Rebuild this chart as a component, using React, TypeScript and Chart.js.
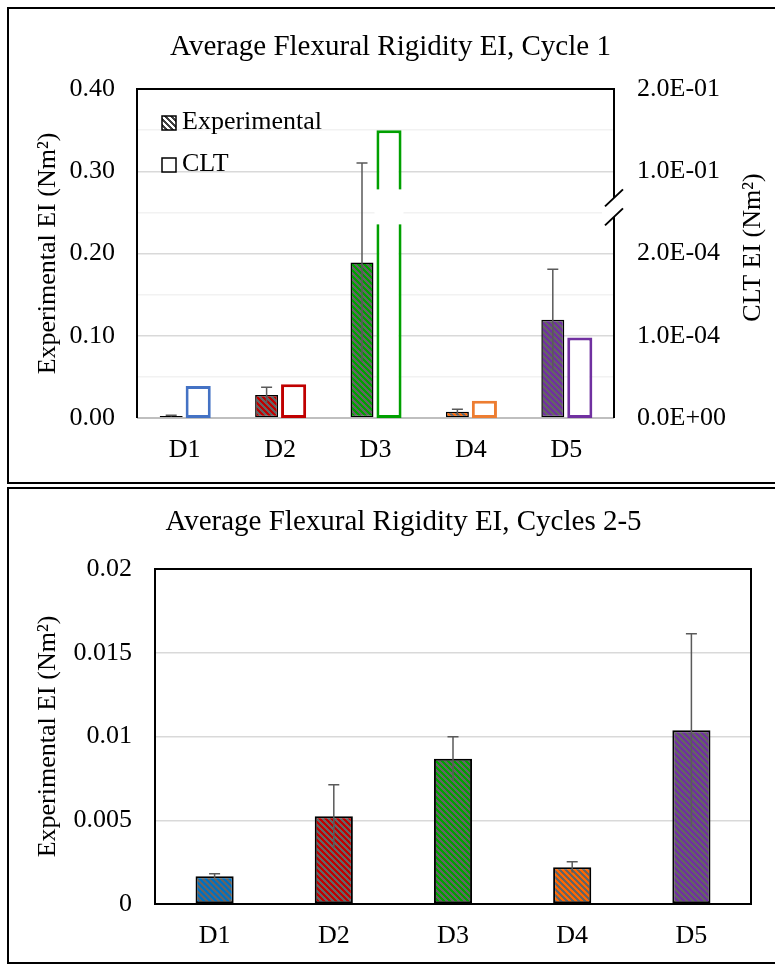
import React, { useEffect, useRef } from 'react';
import { Chart, registerables } from 'chart.js';

Chart.register(...registerables);

const FONT_FAMILY = "'Liberation Serif', 'Times New Roman', serif";

const CATEGORIES = ['D1', 'D2', 'D3', 'D4', 'D5'];
const EXP_COLORS = ['#0070C0', '#C00000', '#00A000', '#FF6600', '#7030A0'];
const CLT_COLORS = ['#4472C4', '#C00000', '#00A000', '#ED7D31', '#7030A0'];
const STRIPE_COLOR = '#646464';

// Cycle 1
const CYCLE1_EXP = [0.0025, 0.028, 0.189, 0.0077, 0.1195];
const CYCLE1_EXP_ERR = [0.0008, 0.0094, 0.121, 0.003, 0.0615];
const CYCLE1_CLT = [3.9e-5, 4.1e-5, 1.5e-1, 2.1e-5, 9.8e-5];
const CLT_AXIS_LABELS = ['0.0E+00', '1.0E-04', '2.0E-04', '1.0E-01', '2.0E-01'];
const CLT_AXIS_TITLE = 'CLT EI (Nm²)';

// Cycles 2-5
const CYCLES25_EXP = [0.00166, 0.00524, 0.00867, 0.0022, 0.01038];
const CYCLES25_EXP_ERR = [0.00014, 0.00188, 0.00131, 0.00032, 0.00575];

// broken CLT axis: 0..2e-4 -> 0..0.2 ; 0.1..0.2 -> 0.3..0.4
function cltToAxis(v: number) {
  return v <= 2e-4 ? v * 1000 : 0.2 + v;
}

function makePattern(color: string, stripe: string) {
  const c = document.createElement('canvas');
  c.width = 6;
  c.height = 6;
  const g = c.getContext('2d')!;
  for (let y = 0; y < 6; y++) {
    for (let x = 0; x < 6; x++) {
      g.fillStyle = ((((x - y) % 6) + 6) % 6) < 3 ? stripe : color;
      g.fillRect(x, y, 1, 1);
    }
  }
  return g.createPattern(c, 'repeat')!;
}

function errorBarPlugin(values: number[], errors: number[]) {
  return {
    id: 'errorBars',
    afterDatasetsDraw(chart: any) {
      const meta = chart.getDatasetMeta(0);
      const y = chart.scales.y;
      const ctx = chart.ctx;
      ctx.save();
      ctx.strokeStyle = '#5a5a5a';
      ctx.lineWidth = 1.5;
      meta.data.forEach((el: any, i: number) => {
        const top = y.getPixelForValue(values[i] + errors[i]);
        const bot = y.getPixelForValue(Math.max(values[i] - errors[i], 0));
        ctx.beginPath();
        ctx.moveTo(el.x, bot);
        ctx.lineTo(el.x, top);
        ctx.moveTo(el.x - 5.5, top);
        ctx.lineTo(el.x + 5.5, top);
        ctx.stroke();
      });
      ctx.restore();
    },
  };
}

const tickFont = { family: FONT_FAMILY, size: 26 };
const titleFont = { family: FONT_FAMILY, size: 29, weight: 'normal' as const };

function isMajor(v: number) {
  return Math.round(v * 100) % 10 === 0;
}

function config1(): any {
  const patterns = EXP_COLORS.map((c) => makePattern(c, STRIPE_COLOR));
  const legendPattern = makePattern('#ffffff', '#404040');
  const framePlugin = {
    id: 'frame1',
    beforeDatasetsDraw(chart: any) {
      const { ctx, chartArea: ca } = chart;
      ctx.save();
      ctx.strokeStyle = '#bfbfbf';
      ctx.lineWidth = 2;
      ctx.beginPath();
      ctx.moveTo(ca.left, ca.bottom);
      ctx.lineTo(ca.right, ca.bottom);
      ctx.stroke();
      ctx.restore();
    },
    afterDraw(chart: any) {
      const { ctx, chartArea: ca } = chart;
      const y = chart.scales.y;
      ctx.save();
      ctx.strokeStyle = '#000';
      ctx.lineWidth = 2;
      ctx.beginPath();
      ctx.moveTo(ca.left, ca.bottom);
      ctx.lineTo(ca.left, ca.top);
      ctx.lineTo(ca.right, ca.top);
      ctx.lineTo(ca.right, ca.bottom);
      ctx.stroke();

      // break on the D3 CLT bar
      const p = y.getPixelForValue(0.25);
      const el = chart.getDatasetMeta(1).data[2];
      ctx.fillStyle = '#fff';
      ctx.fillRect(el.x - el.width / 2 - 2, p - 23, el.width + 4, 35);

      // break on the right axis
      const rx = ca.right;
      ctx.beginPath();
      ctx.moveTo(rx - 9, p - 6);
      ctx.lineTo(rx + 9, p - 23);
      ctx.lineTo(rx + 9, p - 4);
      ctx.lineTo(rx - 9, p + 13);
      ctx.closePath();
      ctx.fill();
      ctx.fillRect(rx - 12, p - 2, 4, 4);
      ctx.beginPath();
      ctx.moveTo(rx - 9, p - 6);
      ctx.lineTo(rx + 9, p - 23);
      ctx.moveTo(rx - 9, p + 13);
      ctx.lineTo(rx + 9, p - 4);
      ctx.stroke();

      // legend
      const lx = ca.left + 25;
      ctx.lineWidth = 1.5;
      ctx.fillStyle = legendPattern;
      ctx.fillRect(lx, ca.top + 27, 14, 14);
      ctx.strokeRect(lx, ca.top + 27, 14, 14);
      ctx.fillStyle = '#fff';
      ctx.fillRect(lx, ca.top + 69, 14, 14);
      ctx.strokeRect(lx, ca.top + 69, 14, 14);
      ctx.fillStyle = '#000';
      ctx.font = `26px ${FONT_FAMILY}`;
      ctx.textBaseline = 'middle';
      ctx.textAlign = 'left';
      ctx.fillText('Experimental', lx + 20, ca.top + 33);
      ctx.fillText('CLT', lx + 20, ca.top + 75);

      // right axis title (reads bottom to top)
      ctx.translate(ca.right + 139, (ca.top + ca.bottom) / 2 - 6);
      ctx.rotate(-Math.PI / 2);
      ctx.textAlign = 'center';
      ctx.fillText(CLT_AXIS_TITLE, 0, 0);
      ctx.restore();
    },
  };

  return {
    type: 'bar',
    data: {
      labels: CATEGORIES,
      datasets: [
        {
          label: 'Experimental',
          data: CYCLE1_EXP,
          backgroundColor: patterns,
          borderColor: '#000',
          borderWidth: 1.5,
          borderSkipped: false,
          barPercentage: 0.85,
          categoryPercentage: 0.566,
          yAxisID: 'y',
        },
        {
          label: 'CLT',
          data: CYCLE1_CLT.map(cltToAxis),
          backgroundColor: '#ffffff',
          borderColor: CLT_COLORS,
          borderWidth: 3,
          borderSkipped: false,
          barPercentage: 0.93,
          categoryPercentage: 0.566,
          yAxisID: 'y2',
        },
      ],
    },
    options: {
      responsive: false,
      animation: false,
      devicePixelRatio: 1,
      layout: { padding: 0 },
      plugins: {
        legend: { display: false },
        tooltip: { enabled: false },
        title: {
          display: true,
          text: 'Average Flexural Rigidity EI, Cycle 1',
          font: titleFont,
          color: '#000',
          padding: { top: 30, bottom: 24.2 },
        },
      },
      scales: {
        x: {
          type: 'category',
          grid: { display: false, drawTicks: false },
          border: { display: false },
          ticks: { font: tickFont, color: '#000', padding: 17, autoSkip: false, maxRotation: 0 },
          afterFit: (s: any) => { s.height = 66; },
        },
        y: {
          position: 'left',
          min: 0,
          max: 0.4,
          ticks: {
            stepSize: 0.05,
            autoSkip: false,
            padding: 22,
            font: tickFont,
            color: '#000',
            callback: (v: any) => (isMajor(Number(v)) ? Number(v).toFixed(2) : ''),
          },
          grid: {
            drawTicks: false,
            lineWidth: 1.5,
            color: (ctx: any) => (isMajor(ctx.tick.value) ? '#d9d9d9' : '#f2f2f2'),
          },
          border: { display: false },
          title: {
            display: true,
            text: 'Experimental EI (Nm²)',
            font: tickFont,
            color: '#000',
            padding: { top: 33, bottom: 0 },
          },
          afterFit: (s: any) => { s.width = 137; },
        },
        y2: {
          position: 'right',
          min: 0,
          max: 0.4,
          ticks: {
            stepSize: 0.1,
            autoSkip: false,
            padding: 23,
            font: tickFont,
            color: '#000',
            callback: (_v: any, i: number) => CLT_AXIS_LABELS[i],
          },
          grid: { display: false, drawTicks: false },
          border: { display: false },
          afterFit: (s: any) => { s.width = 167; },
        },
      },
    },
    plugins: [framePlugin, errorBarPlugin(CYCLE1_EXP, CYCLE1_EXP_ERR)],
  };
}

function config2(): any {
  const patterns = EXP_COLORS.map((c) => makePattern(c, STRIPE_COLOR));
  const framePlugin = {
    id: 'frame2',
    afterDraw(chart: any) {
      const { ctx, chartArea: ca } = chart;
      ctx.save();
      ctx.strokeStyle = '#000';
      ctx.lineWidth = 2;
      ctx.strokeRect(ca.left, ca.top, ca.right - ca.left, ca.bottom - ca.top);
      ctx.restore();
    },
  };
  return {
    type: 'bar',
    data: {
      labels: CATEGORIES,
      datasets: [
        {
          label: 'Experimental',
          data: CYCLES25_EXP,
          backgroundColor: patterns,
          borderColor: '#000',
          borderWidth: 2,
          borderSkipped: false,
          barPercentage: 0.32,
          categoryPercentage: 1,
          yAxisID: 'y',
        },
      ],
    },
    options: {
      responsive: false,
      animation: false,
      devicePixelRatio: 1,
      layout: { padding: 0 },
      plugins: {
        legend: { display: false },
        tooltip: { enabled: false },
        title: {
          display: true,
          text: 'Average Flexural Rigidity EI, Cycles 2-5',
          font: titleFont,
          color: '#000',
          padding: { top: 20, bottom: 29.2 },
        },
      },
      scales: {
        x: {
          type: 'category',
          grid: { display: false, drawTicks: false },
          border: { display: false },
          ticks: { font: tickFont, color: '#000', padding: 17, autoSkip: false, maxRotation: 0 },
          afterFit: (s: any) => { s.height = 62; },
        },
        y: {
          position: 'left',
          min: 0,
          max: 0.02,
          ticks: {
            stepSize: 0.005,
            autoSkip: false,
            padding: 23,
            font: tickFont,
            color: '#000',
            callback: (v: any) => String(parseFloat(Number(v).toFixed(3))),
          },
          grid: { drawTicks: false, lineWidth: 1.5, color: '#d9d9d9' },
          border: { display: false },
          title: {
            display: true,
            text: 'Experimental EI (Nm²)',
            font: tickFont,
            color: '#000',
            padding: { top: 33, bottom: 0 },
          },
          afterFit: (s: any) => { s.width = 155; },
        },
        y2: {
          position: 'right',
          display: true,
          min: 0,
          max: 1,
          ticks: { display: false },
          grid: { display: false, drawTicks: false },
          border: { display: false },
          afterFit: (s: any) => { s.width = 56; },
        },
      },
    },
    plugins: [framePlugin, errorBarPlugin(CYCLES25_EXP, CYCLES25_EXP_ERR)],
  };
}

export default function App() {
  const r1 = useRef<HTMLCanvasElement>(null);
  const r2 = useRef<HTMLCanvasElement>(null);

  useEffect(() => {
    const c1 = new Chart(r1.current!, config1());
    const c2 = new Chart(r2.current!, config2());
    return () => {
      c1.destroy();
      c2.destroy();
    };
  }, []);

  return (
    <div
      style={{
        position: 'absolute',
        left: 0,
        top: 0,
        width: 775,
        height: 966,
        overflow: 'hidden',
        background: '#fff',
      }}
    >
      <canvas
        ref={r1}
        width={781}
        height={484}
        style={{ position: 'absolute', left: 0, top: 0, width: 781, height: 484 }}
      />
      <canvas
        ref={r2}
        width={807}
        height={481}
        style={{ position: 'absolute', left: 0, top: 485, width: 807, height: 481 }}
      />
      <div
        style={{
          position: 'absolute',
          left: 7,
          top: 7,
          width: 800,
          height: 477,
          border: '2px solid #000',
          boxSizing: 'border-box',
          pointerEvents: 'none',
        }}
      />
      <div
        style={{
          position: 'absolute',
          left: 7,
          top: 487,
          width: 800,
          height: 477,
          border: '2px solid #000',
          boxSizing: 'border-box',
          pointerEvents: 'none',
        }}
      />
    </div>
  );
}
